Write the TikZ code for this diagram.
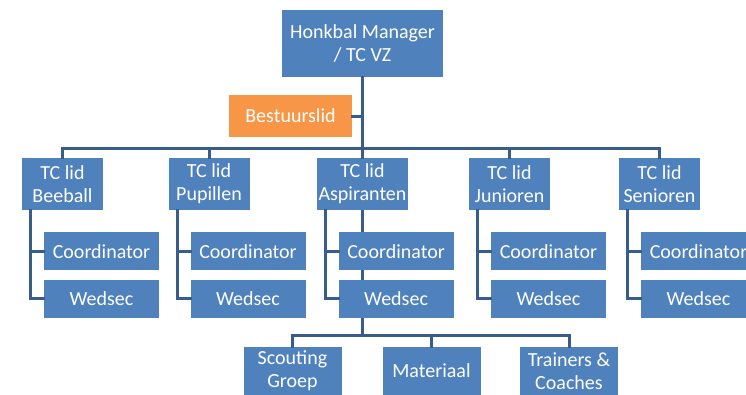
\documentclass[tikz,border=0pt]{standalone}
\usepackage{fontspec}
\setmainfont{Carlito}
\usetikzlibrary{positioning,backgrounds}

\definecolor{boxblue}{RGB}{79,129,189}
\definecolor{lineblue}{RGB}{56,93,138}
\definecolor{boxorange}{RGB}{247,150,70}

\begin{document}
\begin{tikzpicture}[x=1pt,y=-1pt,node distance=9pt,
    box/.style={fill=boxblue,text=white,inner sep=2pt,align=center,
      font=\fontsize{20}{23}\selectfont},
    lid/.style={box,minimum width=81pt,minimum height=52pt},
    sub/.style={box,minimum width=115pt,minimum height=38pt},
    link/.style={draw=lineblue,line width=3pt,line cap=rect}]
  \useasboundingbox (0,0) rectangle (746,394);
  \clip (0,0) rectangle (746,394);

  \node[box,minimum width=161pt,minimum height=67pt] (hm) at (362.5,43.5) {Honkbal Manager\\/ TC VZ};
  \node[box,fill=boxorange,minimum width=123pt,minimum height=42pt] (bl) at (290.5,116) {Bestuurslid};
  \coordinate (bus) at (362.5,148);
  \coordinate (bus2) at (362.5,335);

  \foreach \n/\x/\t in {bee/62.5/Beeball,pup/209/Pupillen,asp/362.5/Aspiranten,jun/509.5/Junioren,sen/659.5/Senioren}{
    \node[lid] (l\n) at (\x,184) {TC lid\\\t};
    \node[sub,below right=22pt and 22pt of l\n.south west] (c\n) {Coordinator};
    \node[sub,below=9pt of c\n] (w\n) {Wedsec};
    \coordinate (k\n) at ([xshift=-13pt]c\n.west);
    \draw[link] (l\n.north) -- (l\n.north |- bus);
    \draw[link] (k\n |- l\n.south) |- (c\n.west);
    \draw[link] (k\n |- l\n.south) |- (w\n.west);
  }

  \foreach \n/\x/\t in {sg/292.5/{Scouting\\Groep},ma/431.5/Materiaal,tc/569/{Trainers \&\\Coaches}}{
    \node[box,minimum width=98pt,minimum height=48pt] (b\n) at (\x,371) {\t};
    \draw[link] (b\n.north) -- (b\n.north |- bus2);
  }

  \draw[link] (hm.south) -- (hm.south |- bus);
  \draw[link] (bl.east) -- (bl.east -| hm.south);
  \draw[link] (lbee.north |- bus) -- (lsen.north |- bus);
  \draw[link] (bsg.north |- bus2) -- (btc.north |- bus2);
  \begin{scope}[on background layer]
    \draw[link] (lasp.south) -- (lasp.south |- bus2);
  \end{scope}
\end{tikzpicture}
\end{document}
